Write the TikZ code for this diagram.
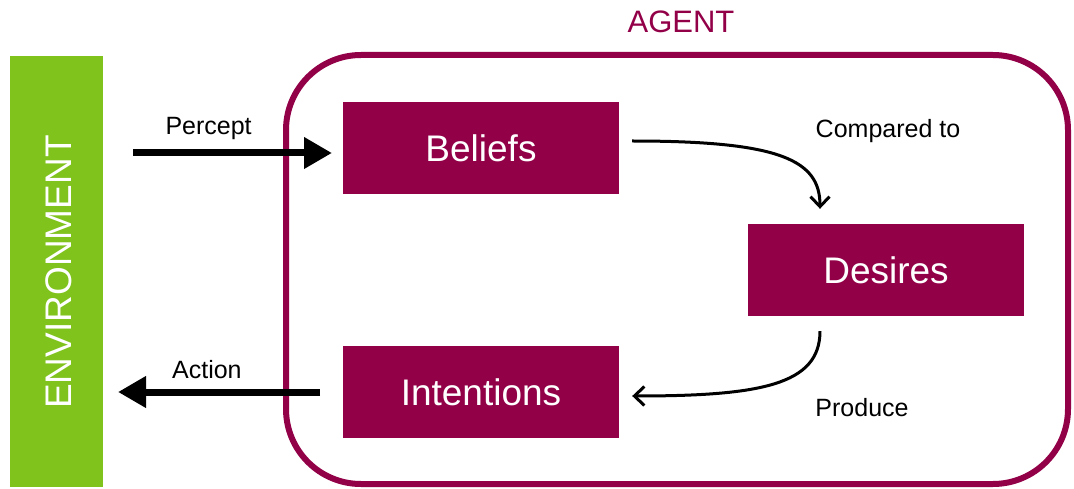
\documentclass[tikz,border=0pt]{standalone}
\usepackage{fontspec}
\setmainfont{Liberation Sans}
\usepackage{tikz}
\usetikzlibrary{arrows.meta}
\definecolor{agentred}{RGB}{146,0,72}
\definecolor{envgreen}{RGB}{127,195,28}

\begin{document}
\begin{tikzpicture}[box/.style={fill=agentred, text=white, minimum width=276pt, minimum height=92pt, inner sep=0pt, font=\fontsize{37}{40}\selectfont}, lbl/.style={font=\fontsize{25}{28}\selectfont}, bigarrow/.style={line width=7pt, -{Triangle[width=30pt,length=28pt]}}, smallarrow/.style={line width=3pt, -{Straight Barb[width=19pt,length=10pt]}}]
\useasboundingbox (0pt, 0pt) rectangle (1074pt, -489pt);
\draw (56.5pt, -271.5pt)node[fill=envgreen, minimum width=93pt, minimum height=430pt, inner sep=0pt](e){};
\draw (59.0pt, -272.0pt)node[rotate=90, text=white, font=\fontsize{37}{40}\selectfont](et){ENVIRONMENT};
\draw (677.0pt, -269.5pt)node[draw=agentred, line width=6pt, rounded corners=75pt, minimum width=782pt, minimum height=429pt](a){};
\draw (681.0pt, -22.0pt)node[text=agentred, font=\fontsize{31}{34}\selectfont](at){AGENT};
\draw (481.0pt, -148.0pt)node[box](0){Beliefs};
\draw (886.0pt, -270.0pt)node[box](1){Desires};
\draw (481.0pt, -392.0pt)node[box](2){Intentions};
\coordinate (p0) at (133.0pt, -153.0pt);
\coordinate (p1) at (332.0pt, -153.0pt);
\coordinate (q0) at (320.0pt, -392.0pt);
\coordinate (q1) at (118.0pt, -392.0pt);
\draw[bigarrow] (p0) -- (p1) node[pos=0.38, above=6pt, lbl]{Percept};
\draw[bigarrow] (q0) -- (q1) node[pos=0.56, above=6pt, lbl]{Action};
\draw[smallarrow] ([xshift=13pt, yshift=7pt]0.east) .. controls (780pt, -141pt) and (820pt, -160pt) .. ([xshift=-66pt, yshift=15pt]1.north);
\draw[smallarrow] ([xshift=-66pt, yshift=-15pt]1.south) .. controls (820pt, -385pt) and (760pt, -396pt) .. ([xshift=13pt, yshift=-4pt]2.east);
\draw (888.0pt, -131.0pt)node[lbl](c){Compared to};
\draw (862.0pt, -408.0pt)node[lbl](d){Produce};
\end{tikzpicture}
\end{document}
